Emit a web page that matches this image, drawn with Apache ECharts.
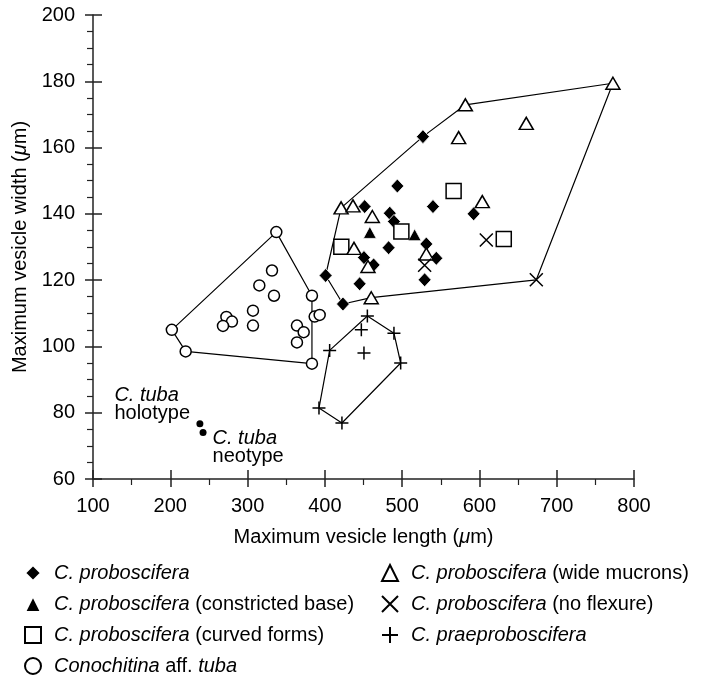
<!DOCTYPE html>
<html>
<head>
<meta charset="utf-8">
<script src="https://cdn.jsdelivr.net/npm/echarts@6/dist/echarts.min.js"></script>
<style>
  html, body { margin: 0; padding: 0; background: #fff; }
  #chart { width: 704px; height: 675px; }
</style>
</head>
<body>
<div id="chart"></div>
<script>
// length / width pairs in µm
const proboscifera = [
    [493.8, 148.4], [539.9, 142.2], [451.5, 142.2], [484, 140.2], [489.4, 137.7],
    [482.5, 129.8], [531.3, 130.9], [450.6, 126.8], [463.1, 124.6], [401, 121.4],
    [445, 118.9], [529.1, 120.1], [544.2, 126.6], [423.4, 112.8], [526.9, 163.3],
    [592.5, 140]
];
const wideMucrons = [
    [421, 141.8], [436.4, 142.4], [461.4, 139.2], [437.7, 129.6], [455.8, 124.1],
    [531.3, 127.9], [460, 114.7], [581.8, 172.9], [573.1, 163], [603.7, 143.7],
    [660.6, 167.3], [772.7, 179.4]
];
const constrictedBase = [[458.2, 134.4], [516.2, 133.7]];
const curvedForms = [[421.3, 130.1], [499, 134.7], [566.6, 146.9], [631.5, 132.4]];
const noFlexure = [[529.1, 124.5], [608.9, 132.1], [673.6, 120.1]];
const praeproboscifera = [
    [455, 109.2], [447.2, 105], [489.4, 104], [406.2, 98.8], [450.6, 98],
    [498.1, 95], [392.4, 81.4], [422.1, 76.9]
];
const affTuba = [
    [202, 105], [219.9, 98.5], [337.2, 134.5], [331.6, 122.9], [315.2, 118.4],
    [334.2, 115.3], [307, 110.8], [272.6, 108.9], [279.8, 107.5], [268.2, 106.2],
    [307, 106.3], [363.9, 106.3], [372.6, 104.3], [363.9, 101.2], [383.3, 115.3],
    [386.8, 109], [393.3, 109.5], [383.3, 94.8]
];
const tubaHolotype = [[238.3, 76.7]];
const tubaNeotype = [[242.4, 74]];

// convex outlines drawn round the groups
const probosciferaHull = [
    [401, 121.4], [421, 141.8], [526.9, 163.3], [581.8, 172.9], [772.7, 179.4],
    [673.6, 120.1], [460, 114.7], [423.4, 112.8], [401, 121.4]
];
const praeHull = [
    [406.2, 98.8], [455, 109.2], [489.4, 104], [498.1, 95], [422.1, 76.9],
    [392.4, 81.4], [406.2, 98.8]
];
const tubaHull = [[202, 105], [337.2, 134.5], [383.3, 115.3], [383.3, 94.8], [219.9, 98.5], [202, 105]];

const FONT = "Liberation Sans";
const CROSS = "path://M0,0L10,10M10,0L0,10";
const PLUS = "path://M5,0L5,10M0,5L10,5";

const names = {
    prob: "C. proboscifera",
    constricted: "C. proboscifera (constricted base)",
    curved: "C. proboscifera (curved forms)",
    tuba: "Conochitina aff. tuba",
    wide: "C. proboscifera (wide mucrons)",
    noflex: "C. proboscifera (no flexure)",
    prae: "C. praeproboscifera"
};
const legendText = {};
legendText[names.prob] = "{i|C. proboscifera}";
legendText[names.constricted] = "{i|C. proboscifera} (constricted base)";
legendText[names.curved] = "{i|C. proboscifera} (curved forms)";
legendText[names.tuba] = "{i|Conochitina} aff. {i|tuba}";
legendText[names.wide] = "{i|C. proboscifera} (wide mucrons)";
legendText[names.noflex] = "{i|C. proboscifera} (no flexure)";
legendText[names.prae] = "{i|C. praeproboscifera}";

function hull (data) {
    return {
        type: "line",
        data: data,
        symbol: "none",
        silent: true,
        z: 1,
        lineStyle: { color: "#000", width: 1.2 }
    };
}

function scatter (name, data, symbol, size, filled) {
    return {
        name: name,
        type: "scatter",
        data: data,
        symbol: symbol,
        symbolSize: size,
        z: 3,
        itemStyle: filled
            ? { color: "#000", borderColor: "#fff", borderWidth: 0.8, opacity: 1 }
            : { color: "#fff", borderColor: "#000", borderWidth: 1.5, opacity: 1 }
    };
}

function crossSeries (name, data, symbol) {
    return {
        name: name,
        type: "scatter",
        data: data,
        symbol: symbol,
        symbolSize: 13,
        z: 3,
        itemStyle: { color: "#000", borderColor: "#000", borderWidth: 1.5, opacity: 1 }
    };
}

function tubaLabel (data, offset) {
    return {
        type: "scatter",
        data: data,
        symbol: "circle",
        symbolSize: 7,
        z: 3,
        itemStyle: { color: "#000", opacity: 1 },
        label: {
            show: true,
            position: offset,
            align: "left",
            verticalAlign: "top",
            fontFamily: FONT,
            fontSize: 20,
            lineHeight: 18,
            color: "#000",
            formatter: "{i|C. tuba}\n{n|" + (offset[0] < 0 ? "holotype" : "neotype") + "}",
            rich: {
                i: { fontFamily: FONT, fontSize: 20, fontStyle: "italic", lineHeight: 18, color: "#000" },
                n: { fontFamily: FONT, fontSize: 20, lineHeight: 18, color: "#000" }
            }
        }
    };
}

function legend (items, left) {
    return {
        data: items,
        orient: "vertical",
        left: left,
        top: 563,
        height: 130,
        padding: 0,
        itemWidth: 16,
        itemHeight: 16,
        itemGap: 11,
        selectedMode: false,
        textStyle: {
            fontFamily: FONT,
            fontSize: 20,
            lineHeight: 20,
            color: "#000",
            padding: [0, 0, 0, 8],
            rich: {
                i: { fontFamily: FONT, fontSize: 20, fontStyle: "italic", lineHeight: 20, color: "#000" }
            }
        },
        formatter: function (name) { return legendText[name]; }
    };
}

const axisText = { fontFamily: FONT, fontSize: 20, color: "#000" };

function drawChart (domId) {
    const chart = echarts.init(document.getElementById(domId));
    const option = {
        animation: false,
        backgroundColor: "#fff",
        grid: { left: 93, right: 70, top: 15, bottom: 196, outerBoundsMode: "none" },
        legend: [
            legend([names.prob, names.constricted, names.curved, names.tuba], 24),
            legend([names.wide, names.noflex, names.prae], 381)
        ],
        xAxis: [
            {
                type: "value",
                min: 100,
                max: 800,
                interval: 100,
                position: "bottom",
                name: "Maximum vesicle length ({m|μ}m)",
                nameLocation: "middle",
                nameGap: 48,
                nameTextStyle: Object.assign({ rich: { m: Object.assign({ fontStyle: "italic" }, axisText) } }, axisText),
                axisLine: { lineStyle: { color: "#222", width: 1.5 } },
                axisTick: { length: 8, lineStyle: { color: "#222", width: 1.5 } },
                minorTick: { show: true, splitNumber: 2, length: 6, lineStyle: { color: "#222", width: 1.2 } },
                axisLabel: Object.assign({ margin: 17 }, axisText),
                splitLine: { show: false }
            },
            {
                type: "value",
                min: 100,
                max: 800,
                interval: 100,
                position: "bottom",
                axisLine: { show: false },
                axisTick: { inside: true, length: 9, lineStyle: { color: "#222", width: 1.5 } },
                axisLabel: { show: false },
                splitLine: { show: false }
            }
        ],
        yAxis: [
            {
                type: "value",
                min: 60,
                max: 200,
                interval: 20,
                position: "left",
                name: "Maximum vesicle width ({m|μ}m)",
                nameLocation: "middle",
                nameGap: 63,
                nameTextStyle: Object.assign({ rich: { m: Object.assign({ fontStyle: "italic" }, axisText) } }, axisText),
                axisLine: { lineStyle: { color: "#222", width: 1.5 } },
                axisTick: { length: 8, lineStyle: { color: "#222", width: 1.5 } },
                minorTick: { show: true, splitNumber: 4, length: 6, lineStyle: { color: "#222", width: 1.2 } },
                axisLabel: Object.assign({ margin: 18 }, axisText),
                splitLine: { show: false }
            },
            {
                type: "value",
                min: 60,
                max: 200,
                interval: 20,
                position: "left",
                axisLine: { show: false },
                axisTick: { inside: true, length: 9, lineStyle: { color: "#222", width: 1.5 } },
                axisLabel: { show: false },
                splitLine: { show: false }
            }
        ],
        series: [
            hull(probosciferaHull),
            hull(praeHull),
            hull(tubaHull),
            scatter(names.prob, proboscifera, "diamond", [13, 14], true),
            scatter(names.constricted, constrictedBase, "triangle", [13, 12], true),
            scatter(names.curved, curvedForms, "rect", 15, false),
            scatter(names.tuba, affTuba, "circle", 11, false),
            scatter(names.wide, wideMucrons, "triangle", [14, 12], false),
            crossSeries(names.noflex, noFlexure, CROSS),
            crossSeries(names.prae, praeproboscifera, PLUS),
            tubaLabel(tubaHolotype, [-82, -34]),
            tubaLabel(tubaNeotype, [13, 0])
        ]
    };
    chart.setOption(option);
    return chart;
}

drawChart("chart");
</script>
</body>
</html>
